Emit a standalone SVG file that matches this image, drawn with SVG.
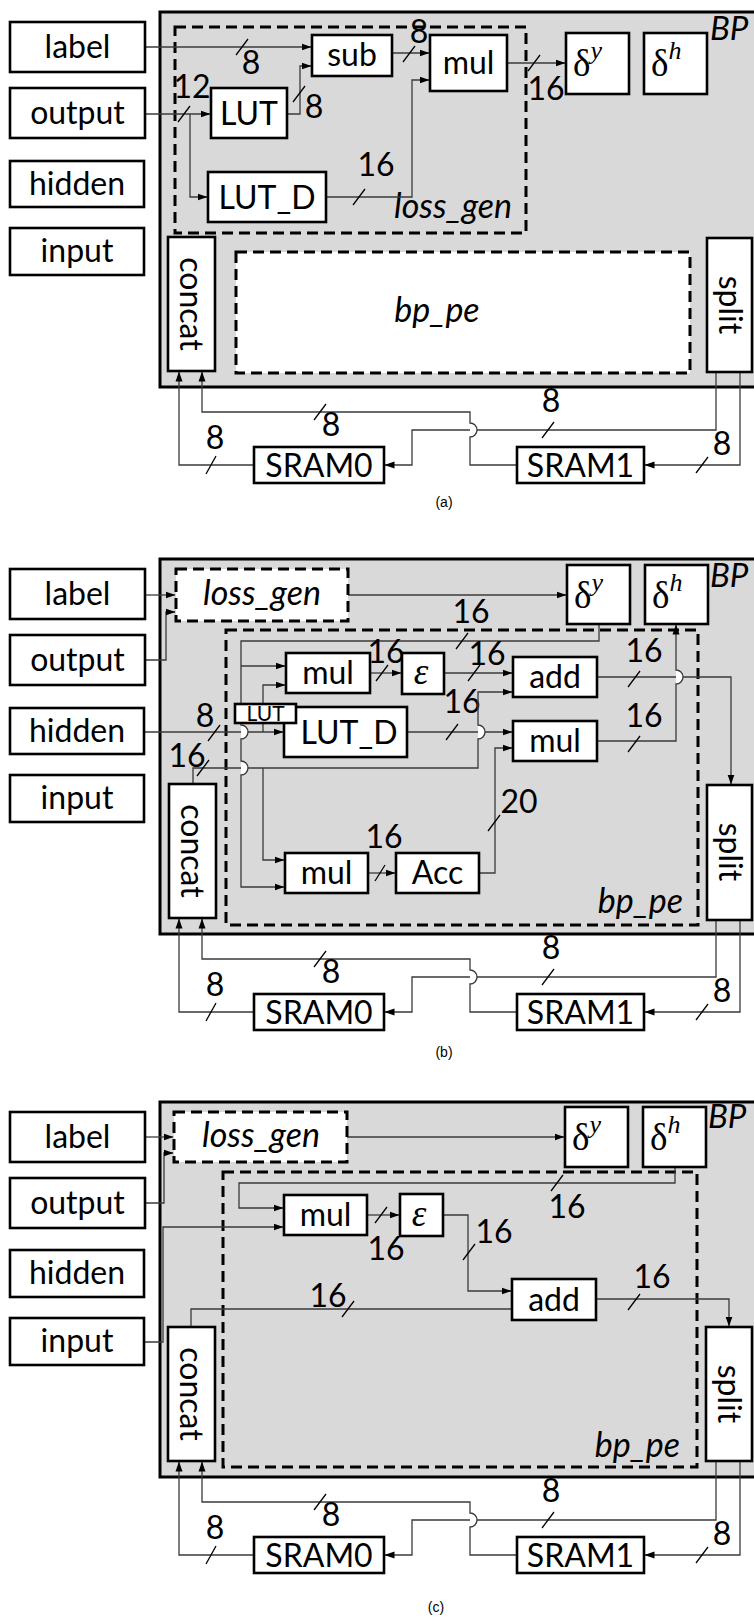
<svg xmlns="http://www.w3.org/2000/svg" width="754" height="1619" viewBox="0 0 754 1619">
<style>
.bp{fill:#d9d9d9;stroke:#000;stroke-width:3}
.bx{fill:#fff;stroke:#000;stroke-width:2.6}
.dg{fill:none;stroke:#000;stroke-width:3;stroke-dasharray:11 6}
.dw{fill:#fff;stroke:#000;stroke-width:3;stroke-dasharray:11 6}
.w{fill:none;stroke:#3a3a3a;stroke-width:1.3}
.ar{marker-end:url(#ah)}
.sl{fill:none;stroke:#000;stroke-width:1.3}
.hd{fill:#fff;stroke:none}
text{font-family:Lato,"Open Sans","Liberation Sans",sans-serif;font-size:32px;fill:#000}
.c{text-anchor:middle}
.e{text-anchor:end}
.i{font-style:italic;font-size:34px}
.m{font-family:"Liberation Serif","DejaVu Serif",serif;font-size:37px}
.sup{font-style:italic;font-size:26px}
.cap{font-family:"Liberation Sans",Arial,sans-serif;font-size:14px}
.s{font-size:21px}
.bpl{font-size:33px;font-style:italic}
</style>
<defs>
<marker id="ah" markerWidth="10" markerHeight="8" refX="9.5" refY="4" orient="auto" markerUnits="userSpaceOnUse"><path d="M0,0.5 L10,4 L0,7.5 z" fill="#000"/></marker>
</defs>

<!-- ================= Panel (a) ================= -->
<g id="panel-a">
<rect id="a-bp" class="bp" x="160" y="12" width="600" height="375"/>
<g id="a-lossgen"><rect class="dg" x="175" y="27" width="351" height="206"/><text class="i e" x="512" y="218">loss_gen</text></g>
<g id="a-bppe"><rect class="dw" x="236" y="252" width="454" height="121"/><text class="i c" x="437" y="322">bp_pe</text></g>
<text id="a-bplabel" class="bpl" x="710" y="40">BP</text>

<g id="a-connectors">
<path class="w ar" d="M145,47 H311"/><path class="sl" d="M236,55 L248,39"/><text class="c" x="251" y="74">8</text>
<path class="w ar" d="M145,114 H210"/><path class="sl" d="M178,122 L190,106"/><text class="c" x="192" y="98">12</text>
<path class="w ar" d="M190,114 V197 H207"/>
<path class="w ar" d="M287,114 H300 V66 H311"/><path class="sl" d="M293,102 L305,86"/><text class="c" x="314" y="118">8</text>
<path class="w ar" d="M392,53 H429"/><path class="sl" d="M403,62 L415,46"/><text class="c" x="419" y="43">8</text>
<path class="w ar" d="M326,197 H412 V80 H429"/><path class="sl" d="M353,205 L365,189"/><text class="c" x="376" y="176">16</text>
<path class="w ar" d="M507,63 H565"/><path class="sl" d="M528,71 L540,55"/><text class="c" x="546" y="100">16</text>
</g>

<g id="a-label"><rect class="bx" x="10" y="22" width="135" height="50"/><text class="c" x="77.5" y="58">label</text></g>
<g id="a-output"><rect class="bx" x="10" y="88" width="135" height="50"/><text class="c" x="77.5" y="124">output</text></g>
<g id="a-hidden"><rect class="bx" x="10" y="161" width="134" height="46"/><text class="c" x="77" y="195">hidden</text></g>
<g id="a-input"><rect class="bx" x="10" y="228" width="134" height="47"/><text class="c" x="77" y="262">input</text></g>
<g id="a-sub"><rect class="bx" x="312" y="35" width="80" height="41"/><text class="c" x="352" y="66">sub</text></g>
<g id="a-lut"><rect class="bx" x="211" y="88" width="76" height="50"/><text class="c" x="249" y="125">LUT</text></g>
<g id="a-lutd"><rect class="bx" x="208" y="172" width="118" height="50"/><text class="c" x="267" y="209">LUT_D</text></g>
<g id="a-mul"><rect class="bx" x="430" y="35" width="77" height="56"/><text class="c" x="468.5" y="74">mul</text></g>
<g id="a-dy"><rect class="bx" x="566" y="33" width="63" height="61"/><text class="m" x="573" y="76">δ<tspan class="sup" dy="-17">y</tspan></text></g>
<g id="a-dh"><rect class="bx" x="644" y="33" width="63" height="61"/><text class="m" x="651" y="76">δ<tspan class="sup" dy="-17">h</tspan></text></g>

<g id="a-bottom">
<g id="a-bottom-connectors">
<path class="w ar" d="M254,465 H179 V372"/><path class="sl" d="M206,474 L216,456"/><text class="c" x="215" y="449">8</text>
<path class="w ar" d="M716,372 V430 H412 V465 H385"/><path class="sl" d="M542,438 L554,422"/><text class="c" x="551" y="412">8</text>
<path class="w ar" d="M740,372 V465 H645"/><path class="sl" d="M696,473 L708,457"/><text class="c" x="722" y="455">8</text>
<path class="hd" d="M470,437 A7,7 0 0 0 470,423 Z"/>
<path class="w ar" d="M517,465 H470 V437 A7,7 0 0 0 470,423 V412 H202 V372"/><path class="sl" d="M314,420 L326,404"/><text class="c" x="331" y="436">8</text>
</g>
<g id="a-concat"><rect class="bx" x="168" y="237" width="47" height="134"/><text class="c" transform="translate(180,304) rotate(90)">concat</text></g>
<g id="a-split"><rect class="bx" x="707" y="238" width="45" height="134"/><text class="c" transform="translate(719,305) rotate(90)">split</text></g>
<g id="a-sram0"><rect class="bx" x="254" y="447" width="130" height="36"/><text class="c" x="319" y="477">SRAM0</text></g>
<g id="a-sram1"><rect class="bx" x="517" y="447" width="127" height="36"/><text class="c" x="580.5" y="477">SRAM1</text></g>
</g>
<text id="a-caption" class="cap c" x="444" y="507">(a)</text>
</g>

<!-- ================= Panel (b) ================= -->
<g id="panel-b" transform="translate(0,547)">
<rect id="b-bp" class="bp" x="160" y="12" width="600" height="375"/>
<g id="b-bppe"><rect class="dg" x="226" y="83" width="472" height="295"/><text class="i e" x="683" y="366">bp_pe</text></g>
<text id="b-bplabel" class="bpl" x="710" y="40">BP</text>

<g id="b-connectors">
<path class="w ar" d="M145,48 H175"/>
<path class="w ar" d="M145,113 H166 V65 H175"/>
<path class="w ar" d="M348,48 H566"/>
<path class="w ar" d="M144,185 H283"/><path class="sl" d="M208,194 L220,178"/><text class="c" x="205" y="180">8</text>
<path class="w ar" d="M263,185 V138 H285"/>
<path class="w ar" d="M407,185 H512"/><path class="sl" d="M446,193 L458,177"/><text class="c" x="462" y="166">16</text>
<path class="hd" d="M478,192 A7,7 0 0 0 478,178 Z"/>
<path class="w ar" d="M193,237 V221 H478 V192 A7,7 0 0 0 478,178 V145 H512"/><path class="sl" d="M197,229 L209,213"/><text class="c" x="187" y="220">16</text>
<path class="w ar" d="M263,221 V313 H284"/>
<path class="hd" d="M241,178 A7,7 0 0 1 241,192 Z"/>
<path class="hd" d="M241,214 A7,7 0 0 1 241,228 Z"/>
<path class="w ar" d="M599,77 V94 H241 V178 A7,7 0 0 1 241,192 V214 A7,7 0 0 1 241,228 V340 H284"/><path class="sl" d="M456,102 L468,86"/><text class="c" x="471" y="76">16</text>
<path class="w ar" d="M241,119 H285"/>
<path class="w ar" d="M370,126 H401"/><path class="sl" d="M376,134 L388,118"/><text class="c" x="386" y="116">16</text>
<path class="w ar" d="M444,126 H512"/><path class="sl" d="M468,134 L480,118"/><text class="c" x="487" y="118">16</text>
<path class="w ar" d="M479,326 H495 V201 H512"/><path class="sl" d="M488,284 L500,268"/><text class="c" x="519" y="266">20</text>
<path class="w ar" d="M368,326 H395"/><path class="sl" d="M375,334 L385,318"/><text class="c" x="384" y="301">16</text>
<path class="w ar" d="M597,130 H731 V237"/><path class="sl" d="M628,140 L640,124"/><text class="c" x="644" y="115">16</text>
<path class="hd" d="M676,137 A7,7 0 0 0 676,123 Z"/>
<path class="w ar" d="M597,194 H676 V137 A7,7 0 0 0 676,123 V78"/><path class="sl" d="M628,205 L640,189"/><text class="c" x="644" y="180">16</text>
</g>

<g id="b-lossgen"><rect class="dw" x="176" y="22" width="172" height="52"/><text class="i c" x="262" y="58">loss_gen</text></g>
<g id="b-label"><rect class="bx" x="10" y="22" width="135" height="50"/><text class="c" x="77.5" y="58">label</text></g>
<g id="b-output"><rect class="bx" x="10" y="88" width="135" height="50"/><text class="c" x="77.5" y="124">output</text></g>
<g id="b-hidden"><rect class="bx" x="10" y="161" width="134" height="46"/><text class="c" x="77" y="195">hidden</text></g>
<g id="b-input"><rect class="bx" x="10" y="228" width="134" height="47"/><text class="c" x="77" y="262">input</text></g>
<g id="b-mul1"><rect class="bx" x="286" y="106" width="84" height="40"/><text class="c" x="328" y="137">mul</text></g>
<g id="b-lutd"><rect class="bx" x="284" y="160" width="123" height="50"/><text class="c" x="349" y="197">LUT_D</text></g>
<g id="b-lut"><rect class="bx" x="235" y="157" width="61" height="19"/><text class="c s" x="265.5" y="174">LUT</text></g>
<g id="b-mul2"><rect class="bx" x="285" y="306" width="83" height="40"/><text class="c" x="326.5" y="337">mul</text></g>
<g id="b-acc"><rect class="bx" x="396" y="306" width="83" height="40"/><text class="c" x="437.5" y="337">Acc</text></g>
<g id="b-eps"><rect class="bx" x="402" y="106" width="42" height="41"/><text class="m c" font-style="italic" x="421" y="137">ε</text></g>
<g id="b-add"><rect class="bx" x="513" y="110" width="84" height="40"/><text class="c" x="555" y="141">add</text></g>
<g id="b-mul3"><rect class="bx" x="513" y="174" width="84" height="40"/><text class="c" x="555" y="205">mul</text></g>
<g id="b-dy"><rect class="bx" x="567" y="18" width="63" height="59"/><text class="m" x="574" y="61">δ<tspan class="sup" dy="-17">y</tspan></text></g>
<g id="b-dh"><rect class="bx" x="645" y="18" width="63" height="59"/><text class="m" x="652" y="61">δ<tspan class="sup" dy="-17">h</tspan></text></g>

<g id="b-bottom">
<g id="b-bottom-connectors">
<path class="w ar" d="M254,465 H179 V372"/><path class="sl" d="M206,474 L216,456"/><text class="c" x="215" y="449">8</text>
<path class="w ar" d="M716,373 V430 H412 V465 H385"/><path class="sl" d="M542,438 L554,422"/><text class="c" x="551" y="412">8</text>
<path class="w ar" d="M740,373 V465 H645"/><path class="sl" d="M696,473 L708,457"/><text class="c" x="722" y="455">8</text>
<path class="hd" d="M470,437 A7,7 0 0 0 470,423 Z"/>
<path class="w ar" d="M517,465 H470 V437 A7,7 0 0 0 470,423 V412 H202 V372"/><path class="sl" d="M314,420 L326,404"/><text class="c" x="331" y="436">8</text>
</g>
<g id="b-concat"><rect class="bx" x="169" y="237" width="47" height="134"/><text class="c" transform="translate(181,304) rotate(90)">concat</text></g>
<g id="b-split"><rect class="bx" x="707" y="238" width="45" height="135"/><text class="c" transform="translate(719,305) rotate(90)">split</text></g>
<g id="b-sram0"><rect class="bx" x="254" y="447" width="130" height="36"/><text class="c" x="319" y="477">SRAM0</text></g>
<g id="b-sram1"><rect class="bx" x="517" y="447" width="127" height="36"/><text class="c" x="580.5" y="477">SRAM1</text></g>
</g>
</g>
<text id="b-caption" class="cap c" x="444" y="1057">(b)</text>

<!-- ================= Panel (c) ================= -->
<g id="panel-c" transform="translate(0,1090)">
<rect id="c-bp" class="bp" x="160" y="12" width="600" height="375"/>
<g id="c-bppe"><rect class="dg" x="223" y="82" width="474" height="295"/><text class="i e" x="680" y="367">bp_pe</text></g>
<text id="c-bplabel" class="bpl" x="708" y="38">BP</text>

<g id="c-connectors">
<path class="w ar" d="M145,47 H173"/>
<path class="w ar" d="M145,113 H164 V63 H173"/>
<path class="w ar" d="M347,47 H564"/>
<path class="w ar" d="M675,77 V93 H239 V118 H283"/><path class="sl" d="M551,101 L563,85"/><text class="c" x="567" y="128">16</text>
<path class="w ar" d="M144,252 H163 V137 H283"/>
<path class="w ar" d="M367,125 H399"/><path class="sl" d="M375,133 L387,117"/><text class="c" x="386" y="170">16</text>
<path class="w ar" d="M443,125 H468 V201 H511"/><path class="sl" d="M463,170 L475,154"/><text class="c" x="494" y="153">16</text>
<path class="w" d="M191,237 V219 H512"/><path class="sl" d="M342,227 L354,211"/><text class="c" x="328" y="217">16</text>
<path class="w ar" d="M596,209 H729 V236"/><path class="sl" d="M628,220 L640,204"/><text class="c" x="652" y="198">16</text>
</g>

<g id="c-lossgen"><rect class="dw" x="174" y="22" width="173" height="50"/><text class="i c" x="261" y="57">loss_gen</text></g>
<g id="c-label"><rect class="bx" x="10" y="22" width="135" height="50"/><text class="c" x="77.5" y="58">label</text></g>
<g id="c-output"><rect class="bx" x="10" y="88" width="135" height="50"/><text class="c" x="77.5" y="124">output</text></g>
<g id="c-hidden"><rect class="bx" x="10" y="160" width="134" height="47"/><text class="c" x="77" y="194">hidden</text></g>
<g id="c-input"><rect class="bx" x="10" y="228" width="134" height="47"/><text class="c" x="77" y="262">input</text></g>
<g id="c-mul"><rect class="bx" x="284" y="105" width="83" height="40"/><text class="c" x="325.5" y="136">mul</text></g>
<g id="c-eps"><rect class="bx" x="400" y="104" width="43" height="42"/><text class="m c" font-style="italic" x="419" y="136">ε</text></g>
<g id="c-add"><rect class="bx" x="512" y="189" width="84" height="41"/><text class="c" x="554" y="221">add</text></g>
<g id="c-dy"><rect class="bx" x="565" y="17" width="63" height="60"/><text class="m" x="572" y="60">δ<tspan class="sup" dy="-17">y</tspan></text></g>
<g id="c-dh"><rect class="bx" x="643" y="17" width="63" height="60"/><text class="m" x="650" y="60">δ<tspan class="sup" dy="-17">h</tspan></text></g>

<g id="c-bottom">
<g id="c-bottom-connectors">
<path class="w ar" d="M254,465 H179 V372"/><path class="sl" d="M206,474 L216,456"/><text class="c" x="215" y="449">8</text>
<path class="w ar" d="M716,372 V430 H412 V465 H385"/><path class="sl" d="M542,438 L554,422"/><text class="c" x="551" y="412">8</text>
<path class="w ar" d="M740,372 V465 H645"/><path class="sl" d="M696,473 L708,457"/><text class="c" x="722" y="455">8</text>
<path class="hd" d="M470,437 A7,7 0 0 0 470,423 Z"/>
<path class="w ar" d="M517,465 H470 V437 A7,7 0 0 0 470,423 V412 H202 V372"/><path class="sl" d="M314,420 L326,404"/><text class="c" x="331" y="436">8</text>
</g>
<g id="c-concat"><rect class="bx" x="168" y="237" width="47" height="134"/><text class="c" transform="translate(180,304) rotate(90)">concat</text></g>
<g id="c-split"><rect class="bx" x="706" y="237" width="46" height="134"/><text class="c" transform="translate(718,304) rotate(90)">split</text></g>
<g id="c-sram0"><rect class="bx" x="254" y="447" width="130" height="36"/><text class="c" x="319" y="477">SRAM0</text></g>
<g id="c-sram1"><rect class="bx" x="517" y="447" width="127" height="36"/><text class="c" x="580.5" y="477">SRAM1</text></g>
</g>
</g>
<text id="c-caption" class="cap c" x="436" y="1612">(c)</text>
</svg>
